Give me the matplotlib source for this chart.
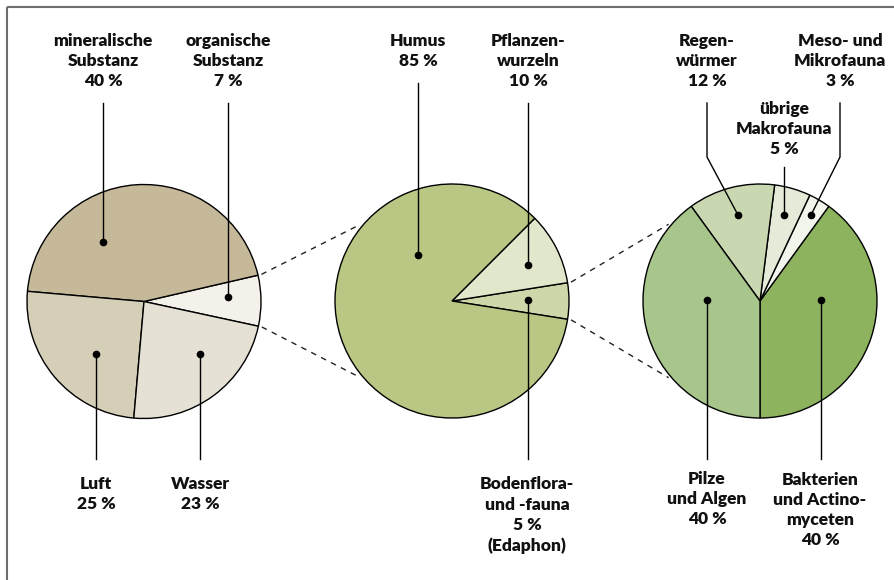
import numpy as np
import matplotlib
matplotlib.use("Agg")
import matplotlib.pyplot as plt

W, H = 894, 580

# --- data -------------------------------------------------------------
# left pie: soil composition (wedge sizes as drawn, labels as printed)
soil_names = ["organische\nSubstanz", "mineralische\nSubstanz", "Luft", "Wasser"]
soil_pct = ["7 %", "40 %", "25 %", "23 %"]
soil_sizes = [7, 45, 25, 23]
soil_colors = ["#f4f1eb", "#c6b99a", "#d6cfb8", "#e5e1d4"]

# middle pie: organic substance
org_names = ["Bodenflora-\nund -fauna", "Pflanzen-\nwurzeln", "Humus"]
org_pct = ["5 %\n(Edaphon)", "10 %", "85 %"]
org_sizes = [5, 10, 85]
org_colors = ["#cdd7a9", "#e1e7ca", "#b8c783"]

# right pie: edaphon
eda_names = ["Bakterien\nund Actino-\nmyceten", "Meso- und\nMikrofauna",
             "übrige\nMakrofauna", "Regen-\nwürmer", "Pilze\nund Algen"]
eda_pct = ["40 %", "3 %", "5 %", "12 %", "40 %"]
eda_sizes = [40, 3, 5, 12, 40]
eda_colors = ["#8db35f", "#f1f5ec", "#e4ebd8", "#c9d8b1", "#a8c58b"]

# --- layout (image pixel coords, y downwards) -------------------------
R = 117
centers = [(144, 301.5), (452, 301), (760, 301)]
startangles = [-12.2, -9, -90]

# label block centre (x, y), leader path from label to dot
soil_layout = [
    ((228, 61), [(228, 103), (228, 297)]),
    ((103, 61), [(103, 103), (103, 242)]),
    ((96, 494), [(96, 459), (96, 354)]),
    ((200, 494), [(200, 459), (200, 354)]),
]
org_layout = [
    ((527, 515), [(528, 459), (528, 300)]),
    ((528, 61), [(528, 103), (528, 265)]),
    ((418, 51), [(418, 83), (418, 255)]),
]
eda_layout = [
    ((820, 510), [(821, 459), (821, 300)]),
    ((840, 61), [(840, 103), (840, 157), (811, 215)]),
    ((784, 129), [(784, 167), (784, 215)]),
    ((707, 61), [(707, 103), (707, 157), (738, 215)]),
    ((707, 499), [(707, 459), (707, 300)]),
]

FONT = "Lato"


def Y(y):
    return H - y


fig = plt.figure(figsize=(W / 100, H / 100), dpi=100)
ax = fig.add_axes([0, 0, 1, 1])

# frame (only top and left edge visible)
ax.plot([7, W], [Y(7), Y(7)], color="#6e6e6e", lw=1.5, solid_capstyle="butt")
ax.plot([7, 7], [Y(7), 0], color="#6e6e6e", lw=1.5, solid_capstyle="butt")

all_wedges = []
for c, sizes, colors, sa in zip(centers,
                                [soil_sizes, org_sizes, eda_sizes],
                                [soil_colors, org_colors, eda_colors],
                                startangles):
    wedges, _ = ax.pie(sizes, colors=colors, startangle=sa, counterclock=True,
                       center=(c[0], Y(c[1])), radius=R, frame=True,
                       wedgeprops=dict(edgecolor="black", linewidth=1.0))
    all_wedges.append(wedges)

# pie() resets the limits, so set them again
ax.set_xlim(0, W)
ax.set_ylim(0, H)
ax.set_aspect("equal")
ax.axis("off")


def label(names, pcts, layout):
    for name, pct, (txt, path) in zip(names, pcts, layout):
        xs = [p[0] for p in path]
        ys = [Y(p[1]) for p in path]
        ax.plot(xs, ys, color="black", lw=1.0)
        ax.plot(xs[-1], ys[-1], "o", color="black", ms=4.5)
        ax.text(txt[0], Y(txt[1]), name + "\n" + pct, ha="center", va="center",
                fontsize=12.5, fontweight="heavy", family=FONT,
                linespacing=1.32, color="#111111")


label(soil_names, soil_pct, soil_layout)
label(org_names, org_pct, org_layout)
label(eda_names, eda_pct, eda_layout)


# dashed connectors: edges of the detailed wedge to the next pie
def connect(wedge, c_from, c_to):
    for a_from, a_to in [(wedge.theta2, 140), (wedge.theta1, 220)]:
        x0 = c_from[0] + 1.03 * R * np.cos(np.radians(a_from))
        y0 = Y(c_from[1]) + 1.03 * R * np.sin(np.radians(a_from))
        x1 = c_to[0] + 1.02 * R * np.cos(np.radians(a_to))
        y1 = Y(c_to[1]) + 1.02 * R * np.sin(np.radians(a_to))
        ax.plot([x0, x1], [y0, y1], color="#222222", lw=1.0, dashes=(4, 4))


connect(all_wedges[0][0], centers[0], centers[1])
connect(all_wedges[1][0], centers[1], centers[2])

fig.savefig("out.png", dpi=100)
